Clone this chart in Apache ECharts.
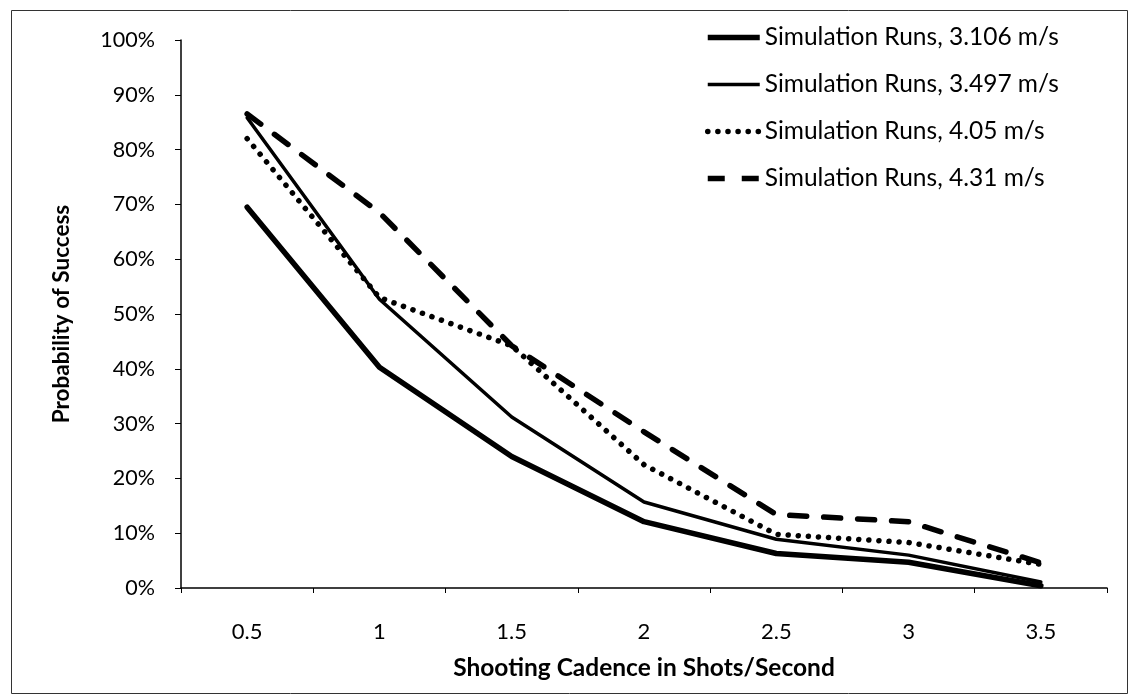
<!DOCTYPE html>
<html>
<head>
<meta charset="utf-8">
<script src="https://cdn.jsdelivr.net/npm/echarts@6/dist/echarts.min.js"></script>
<style>
  html, body { margin: 0; padding: 0; background: #fff; }
  #chart { width: 1129px; height: 696px; }
</style>
</head>
<body>
<div id="chart"></div>
<script>
// Shooting cadence (shots per second) on the x axis
const cadence = ['0.5', '1', '1.5', '2', '2.5', '3', '3.5'];

// Probability of success (%) for each target speed
const run3106 = [69.5, 40.3, 24.0, 12.1, 6.3, 4.7, 0.4];
const run3497 = [85.8, 52.7, 31.2, 15.7, 8.9, 6.0, 1.1];
const run405  = [82.0, 53.0, 44.2, 22.5, 9.8, 8.3, 4.3];
const run431  = [86.5, 68.5, 44.2, 28.5, 13.4, 12.1, 4.6];

const seriesNames = [
  'Simulation Runs, 3.106 m/s',
  'Simulation Runs, 3.497 m/s',
  'Simulation Runs, 4.05 m/s',
  'Simulation Runs, 4.31 m/s'
];

const font = 'Lato, "Open Sans", sans-serif';

// stroke settings per series: width and dash pattern
const strokes = [
  { width: 5.5, type: 'solid' },
  { width: 3.5, type: 'solid' },
  { width: 5.5, type: [0.1, 10] },
  { width: 5.5, type: [17, 17] }
];

function lineSeries(i, data) {
  return {
    name: seriesNames[i],
    type: 'line',
    data: data,
    symbol: 'none',
    smooth: false,
    lineStyle: { color: '#000', width: strokes[i].width, type: strokes[i].type, cap: 'round', join: 'round' },
    itemStyle: { color: '#000' }
  };
}

const chart = echarts.init(document.getElementById('chart'), null, { renderer: 'canvas' });

chart.setOption({
  backgroundColor: '#fff',
  animation: false,
  grid: { left: 181, right: 22, top: 40, bottom: 108, containLabel: false },
  legend: {
    left: 700,
    top: 20,
    orient: 'vertical',
    itemWidth: 52,
    itemHeight: 14,
    itemGap: 22,
    itemStyle: { opacity: 0 },
    textStyle: { fontFamily: font, fontSize: 24.5, lineHeight: 24, color: '#000' },
    data: seriesNames.map((n, i) => ({
      name: n,
      lineStyle: { color: '#000', width: strokes[i].width, type: strokes[i].type, cap: i === 2 ? 'round' : 'butt' }
    }))
  },
  xAxis: {
    type: 'category',
    data: cadence,
    boundaryGap: true,
    name: 'Shooting Cadence in Shots/Second',
    nameLocation: 'middle',
    nameGap: 68,
    nameTextStyle: { fontFamily: font, fontSize: 24.5, fontWeight: 'bold', color: '#000' },
    axisLine: { lineStyle: { color: '#000', width: 1.5 } },
    axisTick: { show: true, inside: false, length: 5, alignWithLabel: false, lineStyle: { color: '#000' } },
    axisLabel: { fontFamily: font, fontSize: 22, color: '#000', margin: 33 },
    splitLine: { show: false }
  },
  yAxis: {
    type: 'value',
    min: 0,
    max: 100,
    interval: 10,
    name: 'Probability of Success',
    nameLocation: 'middle',
    nameGap: 108,
    nameTextStyle: { fontFamily: font, fontSize: 22.5, fontWeight: 'bold', color: '#000' },
    axisLine: { show: true, lineStyle: { color: '#000', width: 1.5 } },
    axisTick: { show: true, inside: false, length: 6, lineStyle: { color: '#000' } },
    axisLabel: { fontFamily: font, fontSize: 21.5, color: '#000', margin: 26, formatter: '{value}%' },
    splitLine: { show: false }
  },
  graphic: [{
    type: 'rect',
    shape: { x: 11.5, y: 10.5, width: 1116, height: 683 },
    style: { fill: 'none', stroke: '#333', lineWidth: 1 },
    silent: true,
    z: -1
  }],
  series: [
    lineSeries(0, run3106),
    lineSeries(1, run3497),
    lineSeries(2, run405),
    lineSeries(3, run431)
  ]
});
</script>
</body>
</html>
